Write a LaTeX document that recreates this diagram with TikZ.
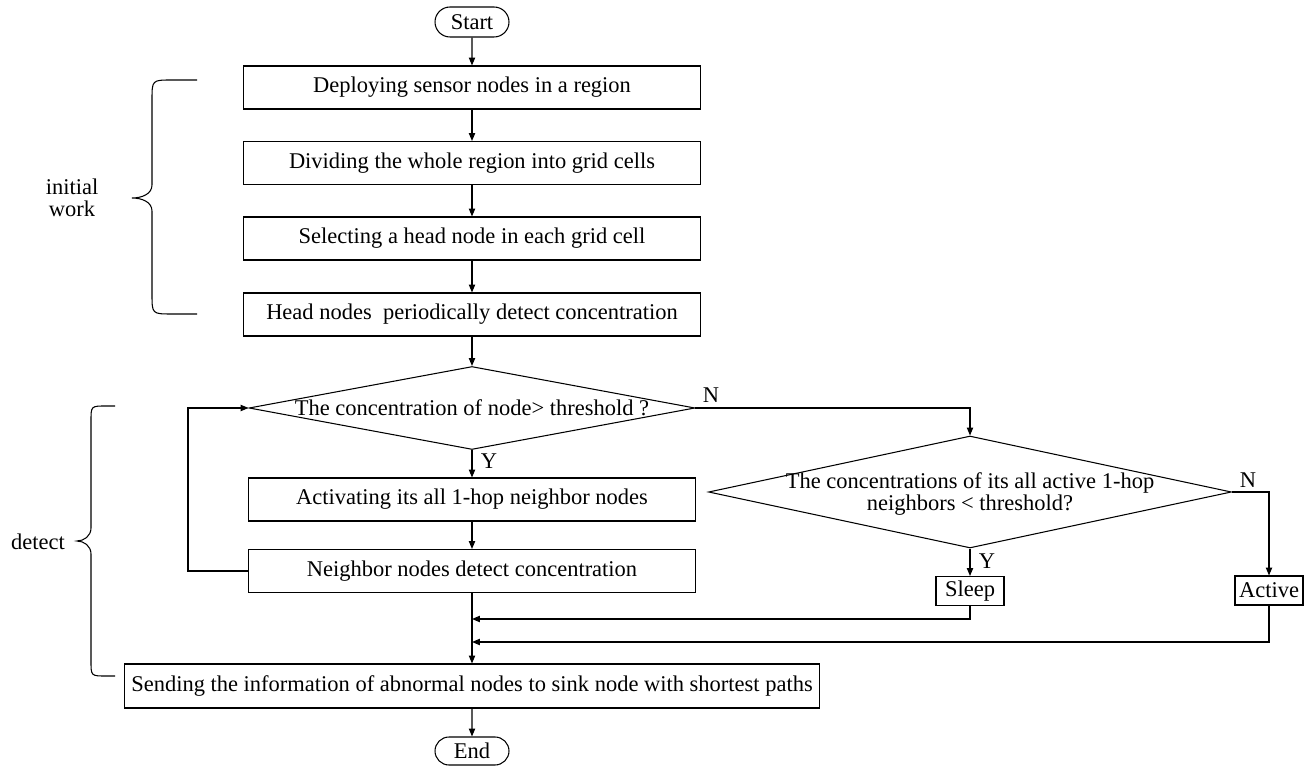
\documentclass[tikz,border=0pt]{standalone}
\usepackage{fontspec}
\setmainfont{Liberation Serif}
\usetikzlibrary{shapes.geometric,shapes.misc,arrows.meta}
\tikzset{
  base/.style={font=\fontsize{12.8pt}{12.5pt}\selectfont, line width=0.6pt},
  procbox/.style={base, draw, rectangle, inner sep=0pt, minimum width=9.14cm, minimum height=0.86cm},
  smallbox/.style={base, draw, rectangle, inner sep=0pt},
  termbox/.style={base, draw, rounded rectangle, inner sep=0pt, minimum width=1.48cm, minimum height=0.6cm},
  decbox/.style={base, draw, diamond, inner sep=0pt},
  txt/.style={base, inner sep=0pt, align=center},
  arr/.style={line width=0.6pt, -{Triangle[length=4.5pt,width=3.6pt]}},
  ln/.style={line width=0.6pt},
}
\begin{document}
\begin{tikzpicture}[x=0.02cm,y=-0.02cm]
\useasboundingbox (0,0) rectangle (1312,766);
% main column
\node[termbox] (start) at (472,22) {Start};
\node[procbox] (b1) at (472,87.5) {Deploying sensor nodes in a region};
\node[procbox] (b2) at (472,163) {Dividing the whole region into grid cells};
\node[procbox] (b3) at (472,238.5) {Selecting a head node in each grid cell};
\node[procbox] (b4) at (472,314.5) {Head nodes~ periodically detect concentration};
\node[decbox, minimum width=8.92cm, minimum height=1.66cm] (d1) at (472,408) {};
\node[txt] (d1t) at (472,408) {The concentration of node> threshold ?};
\node[procbox, minimum width=8.94cm] (b5) at (472,499.5) {Activating its all 1-hop neighbor nodes};
\node[procbox, minimum width=8.94cm] (b6) at (472,571) {Neighbor nodes detect concentration};
\node[procbox, minimum width=13.92cm, minimum height=0.88cm] (b7) at (472,686) {Sending the information of abnormal nodes to sink node with shortest paths};
\node[termbox, minimum height=0.56cm] (end) at (472,751) {End};
% right branch
\node[decbox, minimum width=10.46cm, minimum height=2.24cm] (d2) at (970,492) {};
\node[txt] (d2t) at (970,494) {The concentrations of its all active 1-hop\\neighbors < threshold?};
\node[smallbox, minimum width=1.36cm, minimum height=0.58cm] (sleep) at (970,591) {Sleep};
\node[smallbox, minimum width=1.36cm, minimum height=0.58cm] (active) at (1269,590.5) {Active};
% labels
\node[txt] (n1) at (711,395) {N};
\node[txt] (y1) at (489,461) {Y};
\node[txt] (n2) at (1248,480) {N};
\node[txt] (y2) at (987,561) {Y};
\node[txt] (lw) at (72,198) {initial\\work};
\node[txt] (ld) at (38,542) {detect};
% junction coordinates
\coordinate (lp) at (188,571);
\coordinate (j1) at (472,619);
\coordinate (j2) at (472,642);
% connectors
\draw[arr] (start) -- (b1);
\draw[arr] (b1) -- (b2);
\draw[arr] (b2) -- (b3);
\draw[arr] (b3) -- (b4);
\draw[arr] (b4) -- (d1.north);
\draw[arr] (d1.south) -- (b5);
\draw[arr] (b5) -- (b6);
\draw[arr] (b6) -- (b7);
\draw[arr] (b7) -- (end);
\draw[arr] (b6.west) -- (lp) |- (d1.west);
\draw[arr] (d1.east) -| (d2.north);
\draw[arr] (d2.east) -| (active.north);
\draw[arr] (d2.south) -- (sleep.north);
\draw[arr] (sleep.south) |- (j1);
\draw[arr] (active.south) |- (j2);
% braces
\draw[ln] (197,80) -- (172,80) .. controls (152,80) .. (152,100) -- (152,185)
  .. controls (152,194) and (142,198) .. (132,198)
  .. controls (142,198) and (152,202) .. (152,211) -- (152,294)
  .. controls (152,314) .. (172,314) -- (197,314);
\draw[ln] (115,406) -- (106,406) .. controls (91,406) .. (91,421) -- (91,528)
  .. controls (91,536) and (84,541) .. (77,541)
  .. controls (84,541) and (91,546) .. (91,554) -- (91,661)
  .. controls (91,676) .. (106,676) -- (115,676);
\end{tikzpicture}
\end{document}
